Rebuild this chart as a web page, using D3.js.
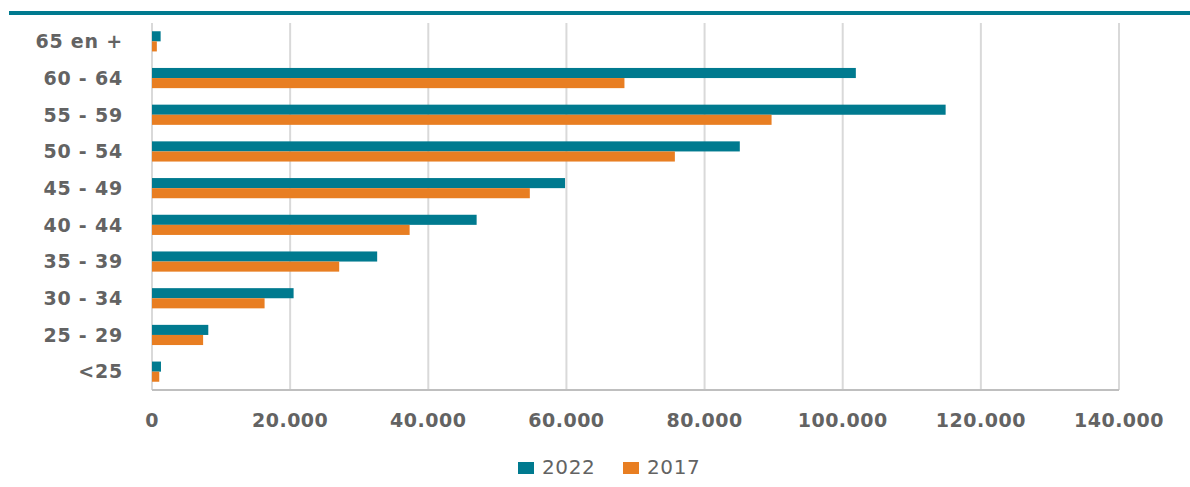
<!DOCTYPE html>
<html>
<head>
<meta charset="utf-8">
<script src="https://cdn.jsdelivr.net/npm/d3@7"></script>
<style>
  html, body { margin: 0; padding: 0; background: #fff; }
  #chart { width: 1190px; height: 487px; }
</style>
</head>
<body>
<div id="chart"></div>
<script>
const categories = ['65 en +', '60 - 64', '55 - 59', '50 - 54', '45 - 49', '40 - 44', '35 - 39', '30 - 34', '25 - 29', '<25'];
const series = ['2022', '2017'];
const values2022 = [1250, 101900, 114900, 85100, 59800, 47000, 32600, 20500, 8150, 1300];
const values2017 = [700, 68400, 89700, 75700, 54700, 37300, 27100, 16300, 7400, 1050];
const xTicks = [0, 20000, 40000, 60000, 80000, 100000, 120000, 140000];
const colors = { '2022': '#007a8f', '2017': '#e87e22' };

const W = 1190, H = 487;
const margin = { top: 23, right: 72, bottom: 97, left: 152 };
const textColor = '#636363';

const svg = d3.select('#chart').append('svg').attr('width', W).attr('height', H);

// top rule
svg.append('rect').attr('x', 9).attr('y', 11).attr('width', W - 9).attr('height', 4).attr('fill', '#007a8f');

const x = d3.scaleLinear().domain([0, 140000]).range([margin.left, 1119]);
const y = d3.scaleBand().domain(categories).range([margin.top, H - margin.bottom]).paddingInner(0.45).paddingOuter(0.225);
const ySub = d3.scaleBand().domain(series).range([0, y.bandwidth()]);

// gridlines
svg.append('g')
  .selectAll('line')
  .data(xTicks)
  .join('line')
  .attr('x1', (d) => x(d)).attr('x2', (d) => x(d))
  .attr('y1', margin.top).attr('y2', H - margin.bottom)
  .attr('stroke', '#d9d9d9').attr('stroke-width', 2);

const rows = categories.map((c, i) => ({ cat: c, '2022': values2022[i], '2017': values2017[i] }));

const g = svg.append('g');
series.forEach((s) => {
  g.append('g')
    .selectAll('rect')
    .data(rows)
    .join('rect')
    .attr('x', x(0))
    .attr('y', (d) => y(d.cat) + ySub(s))
    .attr('width', (d) => x(d[s]) - x(0))
    .attr('height', ySub.bandwidth())
    .attr('fill', colors[s]);
});

// bottom axis line
svg.append('line')
  .attr('x1', x(0)).attr('x2', x(140000))
  .attr('y1', H - margin.bottom).attr('y2', H - margin.bottom)
  .attr('stroke', '#bfbfbf').attr('stroke-width', 2);

// x tick labels
const fmt = (v) => d3.format(',')(v).replace(/,/g, '.');
svg.append('g')
  .selectAll('text')
  .data(xTicks)
  .join('text')
  .attr('x', (d) => x(d))
  .attr('y', 427)
  .attr('text-anchor', 'middle')
  .attr('font-family', 'DejaVu Sans')
  .attr('font-weight', 700)
  .attr('font-size', 19)
  .attr('letter-spacing', 0.5)
  .attr('fill', textColor)
  .text(fmt);

// category labels
svg.append('g')
  .selectAll('text')
  .data(categories)
  .join('text')
  .attr('x', 123)
  .attr('y', (d) => y(d) + y.bandwidth() / 2)
  .attr('dy', '0.36em')
  .attr('text-anchor', 'end')
  .attr('font-family', 'DejaVu Sans')
  .attr('font-weight', 700)
  .attr('font-size', 19)
  .attr('letter-spacing', 0.8)
  .attr('fill', textColor)
  .text((d) => d);

// legend
const legend = svg.append('g');
const legendX = [518, 623];
series.forEach((s, i) => {
  legend.append('rect').attr('x', legendX[i]).attr('y', 462).attr('width', 16).attr('height', 12).attr('fill', colors[s]);
  legend.append('text')
    .attr('x', legendX[i] + 24)
    .attr('y', 474)
    .attr('font-family', 'DejaVu Sans')
    .attr('font-size', 20)
    .attr('letter-spacing', 0.6)
    .attr('fill', textColor)
    .text(s);
});
</script>
</body>
</html>
